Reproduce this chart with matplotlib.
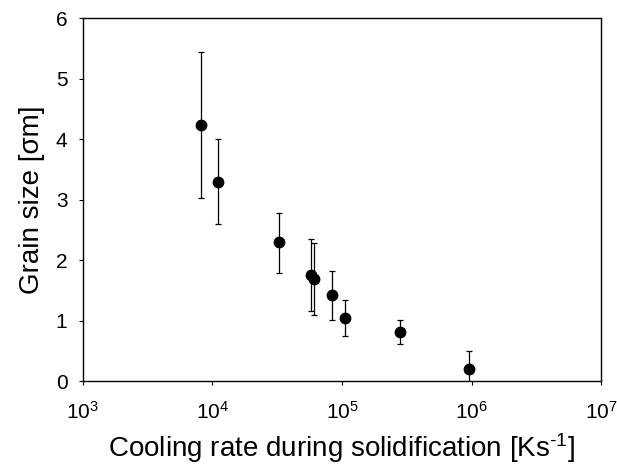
import numpy as np
import matplotlib
matplotlib.use("Agg")
import matplotlib.pyplot as plt

plt.rcParams['font.family'] = ['Liberation Sans', 'DejaVu Sans']
plt.rcParams['mathtext.fontset'] = 'custom'
plt.rcParams['mathtext.rm'] = 'Liberation Sans'
plt.rcParams['mathtext.it'] = 'Liberation Sans'

# data
cooling_rate = [8.2e3, 1.11e4, 3.28e4, 5.77e4, 6.11e4, 8.32e4, 1.06e5, 2.79e5, 9.6e5]
grain_size = [4.23, 3.30, 2.30, 1.76, 1.69, 1.42, 1.05, 0.82, 0.20]
err_upper = [5.44, 4.00, 2.79, 2.36, 2.29, 1.82, 1.35, 1.02, 0.50]
err_lower = [3.03, 2.60, 1.79, 1.16, 1.09, 1.02, 0.755, 0.62, -0.10]

x_ticks = [1e3, 1e4, 1e5, 1e6, 1e7]
x_tick_labels = ['10$^{3}$', '10$^{4}$', '10$^{5}$', '10$^{6}$', '10$^{7}$']
y_ticks = [0, 1, 2, 3, 4, 5, 6]

y = np.array(grain_size)
yerr = [y - np.array(err_lower), np.array(err_upper) - y]

fig = plt.figure(figsize=(6.17, 4.72), dpi=100)
ax = fig.add_axes([0.134, 0.192, 0.8406, 0.7692])

ax.errorbar(cooling_rate, grain_size, yerr=yerr, fmt='o', color='black',
            markersize=7.5, elinewidth=0.9, capsize=2.5, capthick=0.9)

ax.set_xscale('log')
ax.set_xlim(1e3, 1e7)
ax.set_ylim(0, 6)
ax.set_xticks(x_ticks)
ax.set_xticklabels(x_tick_labels)
ax.minorticks_off()
ax.set_yticks(y_ticks)
ax.tick_params(direction='out', length=3, width=0.8, labelsize=15, pad=8)
ax.tick_params(axis='x', pad=11)

for s in ax.spines.values():
    s.set_linewidth(1.0)

ax.set_xlabel(r'Cooling rate during solidification [Ks$^{\text{-}1}$]', fontsize=20, labelpad=6)
ax.set_ylabel('Grain size [σm]', fontsize=20, labelpad=8)

fig.savefig('out.png', dpi=100)
